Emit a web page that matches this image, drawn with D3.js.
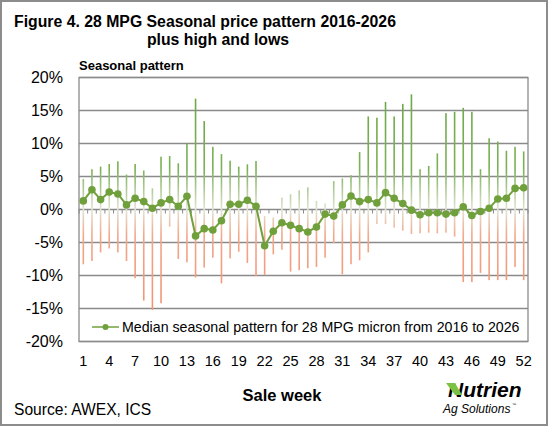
<!DOCTYPE html>
<html>
<head>
	<meta charset="utf-8">
	<title>28 MPG seasonal pattern</title>
	<script src="https://d3js.org/d3.v7.min.js"></script>
	<style>
		body { margin: 0; background: #fff; }
		text { font-family: Arial, "Liberation Sans", sans-serif; fill: #000; }
	</style>
</head>
<body>
	<script>
	var w = 548;
	var h = 426;

	// sale weeks 1..52
	var weeks = [1,2,3,4,5,6,7,8,9,10,11,12,13,14,15,16,17,18,19,20,21,22,23,24,25,26,
		27,28,29,30,31,32,33,34,35,36,37,38,39,40,41,42,43,44,45,46,47,48,49,50,51,52];
	// highest seasonal value per week (%)
	var highs = [4.6,6.1,6.5,6.9,7.3,5.3,6.9,5.9,3.2,8.0,8.1,7.0,10.1,16.8,13.4,9.5,8.4,7.4,6.5,6.85,
		7.35,-1.0,-1.2,1.8,2.3,2.9,3.35,1.3,0.9,4.3,4.7,5.2,8.7,14.1,13.9,16.3,14.1,16.0,17.45,6.1,
		6.6,8.5,14.6,14.8,15.4,14.8,6.1,10.8,10.3,8.9,9.5,8.8];
	// lowest seasonal value per week (%)
	var lows = [-8.3,-7.8,-6.5,-5.9,-6.5,-7.8,-10.4,-13.8,-15.2,-14.2,-2.6,-7.5,-8.0,-10.3,-8.8,-7.3,-11.2,-7.4,-6.4,-8.1,
		-10.1,-9.9,-6.8,-6.1,-9.4,-9.2,-8.9,-8.7,-7.3,-5.1,-9.8,-8.3,-7.7,-6.5,-2.2,-2.2,-2.75,-3.2,-3.7,-3.6,
		-3.5,-3.6,-3.5,-4.1,-11.0,-11.0,-9.6,-10.7,-10.7,-10.7,-8.7,-10.7];
	// median seasonal pattern (%)
	var medians = [1.3,3.0,1.5,2.65,2.35,0.7,1.7,1.2,0.2,1.0,1.5,0.5,2.0,-4.0,-2.9,-3.1,-1.7,0.8,0.8,1.4,
		0.5,-5.5,-3.3,-2.0,-2.4,-2.9,-3.4,-2.65,-0.7,-1.0,0.7,2.05,1.2,1.5,1.0,2.55,1.7,0.9,-0.1,-0.8,
		-0.5,-0.5,-0.7,-0.5,0.4,-0.9,-0.3,0.2,1.6,1.7,3.2,3.3];
	var yTicks = [-20,-15,-10,-5,0,5,10,15,20];
	var xLabels = [1,4,7,10,13,16,19,22,25,28,31,34,37,40,43,46,49,52];

	// plot area (note: "top" is a reserved global in browsers)
	var pLeft = 79, pRight = 528, pTop = 77.5, pBottom = 341.5;
	var green = "#70a03c";

	var svg = d3.select("body").append("svg")
		.attr("width", w)
		.attr("height", h);

	svg.append("rect")
		.attr("x", 1).attr("y", 1)
		.attr("width", w - 2).attr("height", h - 2)
		.attr("fill", "#fff")
		.attr("stroke", "#8c8c8c")
		.attr("stroke-width", 2);

	var x = d3.scaleBand().domain(weeks).range([pLeft, pRight]);
	var y = d3.scaleLinear().domain([-20, 20]).range([pBottom, pTop]);

	function off(v) { return (y(v) - pTop) / (pBottom - pTop); }

	// gradient for the high-low lines: green above zero, orange below
	var grad = svg.append("defs").append("linearGradient")
		.attr("id", "hl")
		.attr("gradientUnits", "userSpaceOnUse")
		.attr("x1", 0).attr("x2", 0)
		.attr("y1", y(20)).attr("y2", y(-20));
	grad.append("stop").attr("offset", 0).attr("stop-color", "#6aa640");
	grad.append("stop").attr("offset", off(6)).attr("stop-color", "#7cb257");
	grad.append("stop").attr("offset", off(0)).attr("stop-color", "#e2e4d4");
	grad.append("stop").attr("offset", off(-4)).attr("stop-color", "#f3a78a");
	grad.append("stop").attr("offset", 1).attr("stop-color", "#f28a66");

	// gridlines
	svg.append("g").selectAll("line")
		.data(yTicks.filter(function(d){ return d != 0; }))
		.enter().append("line")
		.attr("x1", pLeft).attr("x2", pRight)
		.attr("y1", function(d){ return y(d); })
		.attr("y2", function(d){ return y(d); })
		.attr("stroke", "#8a8a8a")
		.attr("stroke-width", 1.3);

	// plot border
	svg.append("rect")
		.attr("x", pLeft).attr("y", pTop)
		.attr("width", pRight - pLeft).attr("height", pBottom - pTop)
		.attr("fill", "none")
		.attr("stroke", "#8a8a8a")
		.attr("stroke-width", 1.3);

	// zero line with category ticks
	svg.append("line")
		.attr("x1", pLeft).attr("x2", pRight)
		.attr("y1", y(0)).attr("y2", y(0))
		.attr("stroke", "#8a8a8a")
		.attr("stroke-width", 1.3);
	svg.append("g").selectAll("line")
		.data(d3.range(weeks.length + 1))
		.enter().append("line")
		.attr("x1", function(i){ return pLeft + i * x.step(); })
		.attr("x2", function(i){ return pLeft + i * x.step(); })
		.attr("y1", y(0)).attr("y2", y(0) + 4)
		.attr("stroke", "#8a8a8a")
		.attr("stroke-width", 1);

	// high-low lines
	svg.append("g").selectAll("rect")
		.data(weeks)
		.enter().append("rect")
		.attr("x", function(d){ return x(d) + x.bandwidth() / 2 - 0.8; })
		.attr("width", 1.6)
		.attr("y", function(d, i){ return y(highs[i]); })
		.attr("height", function(d, i){ return y(lows[i]) - y(highs[i]); })
		.attr("fill", "url(#hl)");

	// median line
	var line = d3.line()
		.x(function(d, i){ return x(weeks[i]) + x.bandwidth() / 2; })
		.y(function(d){ return y(d); });
	svg.append("path")
		.datum(medians)
		.attr("d", line)
		.attr("fill", "none")
		.attr("stroke", green)
		.attr("stroke-width", 2);
	svg.append("g").selectAll("circle")
		.data(medians)
		.enter().append("circle")
		.attr("cx", function(d, i){ return x(weeks[i]) + x.bandwidth() / 2; })
		.attr("cy", function(d){ return y(d); })
		.attr("r", 3.8)
		.attr("fill", green);

	// y axis labels
	var yAxis = svg.append("g")
		.attr("transform", "translate(" + (pLeft - 16) + ",0)")
		.call(d3.axisLeft(y).tickValues(yTicks).tickSize(0).tickPadding(0)
			.tickFormat(function(d){ return d + "%"; }));
	yAxis.select(".domain").remove();
	yAxis.selectAll("text")
		.style("font-family", "Arial, 'Liberation Sans', sans-serif")
		.style("font-size", "16px")
		.attr("fill", "#000");

	// x axis labels
	var xAxis = svg.append("g")
		.attr("transform", "translate(0," + pBottom + ")")
		.call(d3.axisBottom(x).tickValues(xLabels).tickSize(0).tickPadding(14));
	xAxis.select(".domain").remove();
	xAxis.selectAll("text")
		.style("font-family", "Arial, 'Liberation Sans', sans-serif")
		.style("font-size", "14.5px")
		.attr("fill", "#000");

	// legend
	svg.append("line")
		.attr("x1", 92).attr("x2", 119)
		.attr("y1", 327).attr("y2", 327)
		.attr("stroke", green).attr("stroke-width", 1.5);
	svg.append("circle")
		.attr("cx", 105.5).attr("cy", 327).attr("r", 3)
		.attr("fill", green);
	svg.append("text")
		.attr("x", 122).attr("y", 332)
		.style("font-size", "14.2px")
		.text("Median seasonal pattern for 28 MPG micron from 2016 to 2026");

	// titles
	svg.append("text")
		.attr("x", 14).attr("y", 27)
		.style("font-size", "15.8px").style("font-weight", "bold")
		.text("Figure 4. 28 MPG Seasonal price pattern 2016-2026");
	svg.append("text")
		.attr("x", 218).attr("y", 45)
		.attr("text-anchor", "middle")
		.style("font-size", "15.8px").style("font-weight", "bold")
		.text("plus high and lows");
	svg.append("text")
		.attr("x", 79).attr("y", 70)
		.style("font-size", "13px").style("font-weight", "bold")
		.text("Seasonal pattern");
	svg.append("text")
		.attr("x", 282).attr("y", 401)
		.attr("text-anchor", "middle")
		.style("font-size", "16.5px").style("font-weight", "bold")
		.text("Sale week");
	svg.append("text")
		.attr("x", 14).attr("y", 415)
		.style("font-size", "15.6px")
		.text("Source: AWEX, ICS");

	// logo
	var logo = svg.append("g");
	logo.append("text")
		.attr("x", 448).attr("y", 397)
		.style("font-size", "21px").style("font-weight", "bold").style("font-style", "italic")
		.attr("fill", "#1e2a3a")
		.text("Nutrien");
	logo.append("path")
		.attr("d", "M446,383 L455,383 L462,395 L455,395 Z")
		.attr("fill", "#7cc242");
	logo.append("text")
		.attr("x", 443).attr("y", 413)
		.style("font-size", "12px").style("font-style", "italic")
		.attr("fill", "#1e2a3a")
		.text("Ag Solutions");
	logo.append("text")
		.attr("x", 512).attr("y", 406)
		.style("font-size", "4px")
		.attr("fill", "#1e2a3a")
		.text("™");
	</script>
</body>
</html>
